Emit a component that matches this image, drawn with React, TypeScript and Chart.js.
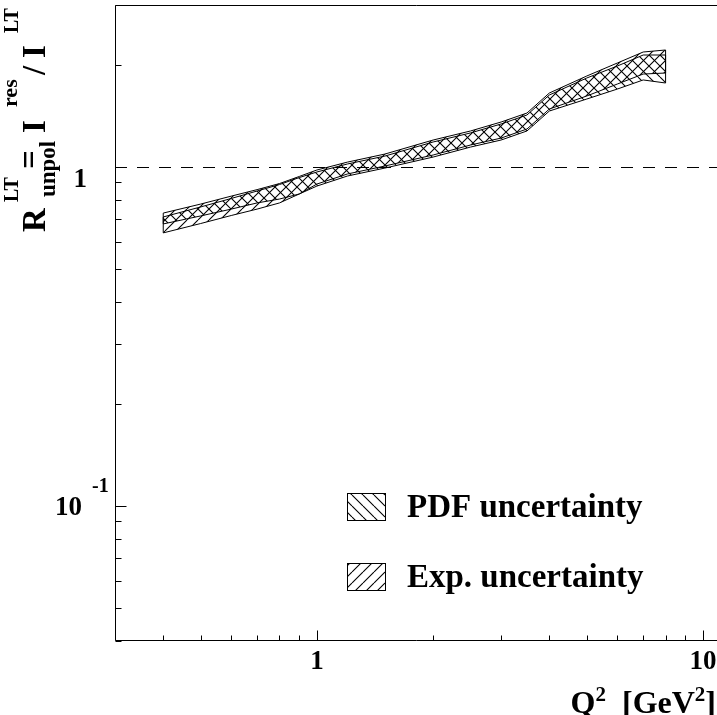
import React, { useEffect, useRef } from "react";
import { Chart, registerables } from "chart.js";

Chart.register(...registerables);

// ---- data ----
const q2 = [0.4, 0.5, 0.6, 0.7, 0.8, 0.9, 1.0, 1.2, 1.5, 2.0, 2.5, 3.0, 3.5, 4.0, 5.0, 6.0, 7.0, 8.0];
const expHigh = [0.730, 0.776, 0.819, 0.856, 0.892, 0.936, 0.978, 1.032, 1.090, 1.199, 1.275, 1.355, 1.440, 1.650, 1.852, 2.023, 2.180, 2.210];
const expLow = [0.638, 0.680, 0.718, 0.750, 0.782, 0.831, 0.889, 0.952, 1.005, 1.083, 1.159, 1.215, 1.292, 1.480, 1.617, 1.754, 1.877, 1.890];
const pdfHigh = [0.711, 0.761, 0.806, 0.848, 0.886, 0.929, 0.965, 1.019, 1.075, 1.183, 1.258, 1.337, 1.421, 1.628, 1.827, 1.982, 2.136, 2.136];
const pdfLow = [0.678, 0.716, 0.750, 0.782, 0.803, 0.831, 0.877, 0.939, 0.991, 1.068, 1.143, 1.199, 1.275, 1.460, 1.584, 1.695, 1.803, 1.766];

const refLine = 1;
const xMajor = [1, 10];
const xMinor = [0.3, 0.4, 0.5, 0.6, 0.7, 0.8, 0.9, 2, 3, 4, 5, 6, 7, 8, 9];
const yMajor = [0.1, 1];
const yMinor = [0.04, 0.05, 0.06, 0.07, 0.08, 0.09, 0.2, 0.3, 0.4, 0.5, 0.6, 0.7, 0.8, 0.9, 2, 3];
const xTickLabels = ["1", "10"];
const legendLabels = ["PDF uncertainty", "Exp. uncertainty"];

const FONT = '"Liberation Serif", "Times New Roman", serif';

function makePattern(dir: "back" | "fwd"): CanvasPattern | string {
  const s = 11;
  const c = document.createElement("canvas");
  c.width = s;
  c.height = s;
  const g = c.getContext("2d");
  if (!g) return "rgba(0,0,0,0)";
  g.strokeStyle = "#000";
  g.lineWidth = 1.1;
  g.beginPath();
  for (let k = -1; k <= 1; k++) {
    if (dir === "back") {
      g.moveTo(k * s, 0);
      g.lineTo(k * s + s, s);
    } else {
      g.moveTo(k * s, s);
      g.lineTo(k * s + s, 0);
    }
  }
  g.stroke();
  return g.createPattern(c, "repeat") || "rgba(0,0,0,0)";
}

const pts = (ys: number[]) => q2.map((x, i) => ({ x, y: ys[i] }));

export default function App() {
  const ref = useRef<HTMLCanvasElement | null>(null);

  useEffect(() => {
    if (!ref.current) return;
    const pdfPat = makePattern("back");
    const expPat = makePattern("fwd");

    const decor = {
      id: "decor",
      beforeDatasetsDraw(chart: any) {
        const { ctx, chartArea: a, scales } = chart;
        const y1 = Math.round(scales.y.getPixelForValue(refLine)) + 0.5;
        ctx.save();
        ctx.strokeStyle = "#000";
        ctx.lineWidth = 1;
        ctx.setLineDash([12, 10]);
        ctx.beginPath();
        ctx.moveTo(a.left, y1);
        ctx.lineTo(a.right, y1);
        ctx.stroke();
        ctx.restore();
      },
      afterDatasetsDraw(chart: any) {
        const { ctx, chartArea: a, scales } = chart;
        const xs = scales.x;
        const ys = scales.y;
        ctx.save();
        ctx.strokeStyle = "#000";
        ctx.lineWidth = 1;
        // band end closures
        const closers: [number[], number[]][] = [
          [expLow, expHigh],
          [pdfLow, pdfHigh],
        ];
        const last = q2.length - 1;
        ctx.beginPath();
        for (const [lo, hi] of closers) {
          for (const i of [0, last]) {
            const px = xs.getPixelForValue(q2[i]);
            ctx.moveTo(px, ys.getPixelForValue(lo[i]));
            ctx.lineTo(px, ys.getPixelForValue(hi[i]));
          }
        }
        ctx.stroke();

        // frame
        const L = Math.round(a.left) + 0.5;
        const B = Math.round(a.bottom) - 0.5;
        const T = Math.round(a.top) + 0.5;
        ctx.beginPath();
        ctx.moveTo(L, T);
        ctx.lineTo(a.right, T);
        ctx.moveTo(L, T);
        ctx.lineTo(L, B);
        ctx.lineTo(a.right, B);
        ctx.stroke();

        // ticks
        ctx.beginPath();
        for (const v of yMajor) {
          const p = Math.round(ys.getPixelForValue(v)) + 0.5;
          ctx.moveTo(L, p);
          ctx.lineTo(L + 11, p);
        }
        for (const v of yMinor) {
          const p = Math.round(ys.getPixelForValue(v)) + 0.5;
          ctx.moveTo(L, p);
          ctx.lineTo(L + 6, p);
        }
        for (const v of xMajor) {
          const p = Math.round(xs.getPixelForValue(v)) + 0.5;
          ctx.moveTo(p, B);
          ctx.lineTo(p, B - 10);
        }
        for (const v of xMinor) {
          const p = Math.round(xs.getPixelForValue(v)) + 0.5;
          ctx.moveTo(p, B);
          ctx.lineTo(p, B - 5);
        }
        ctx.stroke();

        // x tick labels
        ctx.fillStyle = "#000";
        ctx.font = `bold 27px ${FONT}`;
        ctx.textAlign = "center";
        ctx.textBaseline = "alphabetic";
        xMajor.forEach((v, i) => {
          ctx.fillText(xTickLabels[i], xs.getPixelForValue(v), 669);
        });

        // y tick labels
        ctx.textAlign = "right";
        ctx.fillText("1", 87, 187);
        ctx.fillText("10", 82, 515);
        ctx.textAlign = "left";
        ctx.font = `bold 20px ${FONT}`;
        ctx.fillText("-1", 92, 492);

        // x axis title, right aligned
        const parts: [string, number, number][] = [
          ["Q", 32, 0],
          ["2", 21, -12],
          ["  [GeV", 32, 0],
          ["2", 21, -12],
          ["]", 32, 0],
        ];
        let total = 0;
        for (const [t, s] of parts) {
          ctx.font = `bold ${s}px ${FONT}`;
          total += ctx.measureText(t).width;
        }
        let cx = 716 - total;
        for (const [t, s, dy] of parts) {
          ctx.font = `bold ${s}px ${FONT}`;
          ctx.fillText(t, cx, 713 + dy);
          cx += ctx.measureText(t).width;
        }

        // y axis title (rotated)
        ctx.save();
        ctx.translate(45, 232);
        ctx.rotate(-Math.PI / 2);
        const yt: [string, number, number, number][] = [
          ["R", 33, 0, 0],
          ["LT", 20, 30, -27],
          ["unpol", 23, 35, 10],
          ["=", 33, 63, -5],
          ["I", 33, 99, 0],
          ["res", 22, 125, -28],
          ["/", 33, 157, 0],
          ["I", 33, 174, 0],
          ["LT", 20, 199, -27],
        ];
        for (const [t, s, u, v] of yt) {
          ctx.font = `bold ${s}px ${FONT}`;
          ctx.fillText(t, u, v);
        }
        ctx.restore();

        // legend
        const boxes: [number, CanvasPattern | string, string][] = [
          [493, pdfPat, legendLabels[0]],
          [563, expPat, legendLabels[1]],
        ];
        for (const [top, pat, label] of boxes) {
          ctx.fillStyle = pat as any;
          ctx.fillRect(347, top, 38, 27);
          ctx.strokeStyle = "#000";
          ctx.strokeRect(347.5, top + 0.5, 38, 27);
          ctx.fillStyle = "#000";
          ctx.font = `bold 33px ${FONT}`;
          ctx.textAlign = "left";
          ctx.fillText(label, 407, top + 24);
        }
        ctx.restore();
      },
    };

    const common = {
      borderColor: "#000",
      borderWidth: 1,
      pointRadius: 0,
      tension: 0,
    };

    const chart = new Chart(ref.current, {
      type: "line",
      data: {
        datasets: [
          { ...common, label: "expHigh", data: pts(expHigh), fill: "+1", backgroundColor: expPat as any },
          { ...common, label: "expLow", data: pts(expLow), fill: false },
          { ...common, label: "pdfHigh", data: pts(pdfHigh), fill: "+1", backgroundColor: pdfPat as any },
          { ...common, label: "pdfLow", data: pts(pdfLow), fill: false },
        ],
      },
      options: {
        responsive: false,
        animation: false,
        devicePixelRatio: 1,
        layout: { padding: { left: 115, top: 5, right: 0, bottom: 74 } },
        scales: {
          x: { type: "logarithmic", min: 0.3, max: 10.87, display: false },
          y: { type: "logarithmic", min: 0.0399, max: 3.0, display: false },
        },
        plugins: {
          legend: { display: false },
          tooltip: { enabled: false },
        },
      },
      plugins: [decor],
    } as any);

    return () => chart.destroy();
  }, []);

  return (
    <div style={{ position: "absolute", left: 0, top: 0, width: 717, height: 715, background: "#fff" }}>
      <canvas ref={ref} width={717} height={715} style={{ width: 717, height: 715 }} />
    </div>
  );
}
